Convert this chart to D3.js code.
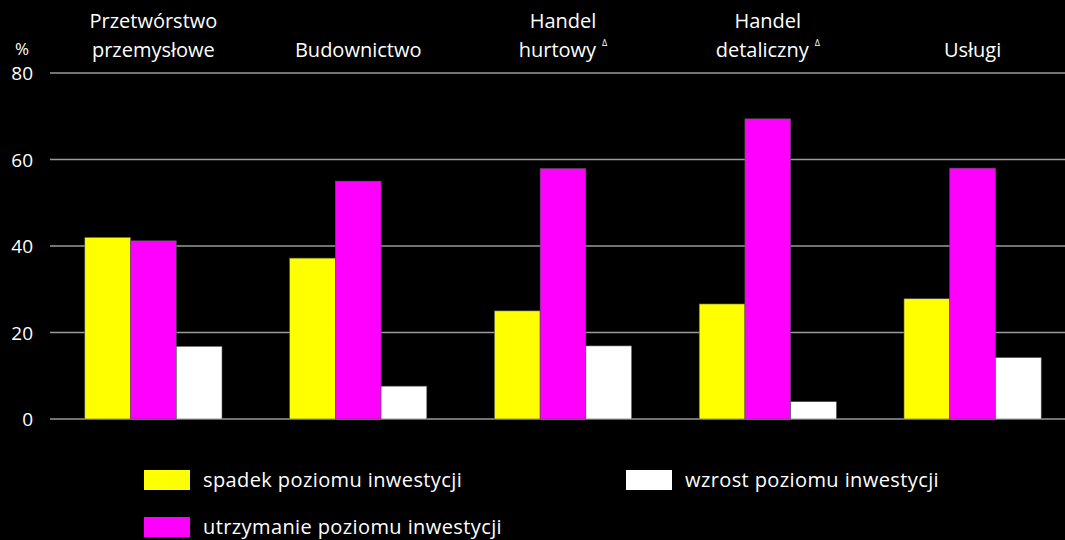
<!DOCTYPE html>
<html>
<head>
<meta charset="utf-8">
<script src="https://cdn.jsdelivr.net/npm/d3@7"></script>
<style>
  body { margin: 0; background: #000; }
  svg { display: block; font-family: "Open Sans", "Noto Sans", sans-serif; }
</style>
</head>
<body>
<svg width="1065" height="540"></svg>
<script>
var svg = d3.select("svg"),
  width = +svg.attr("width"),
  height = +svg.attr("height");

// categories (two lines each, delta mark where the original has one)
var categories = ["Przetwórstwo przemysłowe", "Budownictwo", "Handel hurtowy", "Handel detaliczny", "Usługi"];
var catLines = [["Przetwórstwo", "przemysłowe"], ["Budownictwo"], ["Handel", "hurtowy"], ["Handel", "detaliczny"], ["Usługi"]];
var catDelta = [false, false, true, true, false];

var seriesNames = ["spadek poziomu inwestycji", "utrzymanie poziomu inwestycji", "wzrost poziomu inwestycji"];
var spadek = [42.0, 37.2, 25.0, 26.6, 27.8];
var utrzymanie = [41.2, 55.0, 57.9, 69.4, 58.0];
var wzrost = [16.8, 7.6, 16.9, 4.0, 14.2];
var yTicks = [0, 20, 40, 60, 80];

var colors = ["#ffff00", "#ff00ff", "#ffffff"];
var series = [spadek, utrzymanie, wzrost];

svg.append("rect").attr("width", width).attr("height", height).attr("fill", "#000");

var y = d3.scaleLinear().domain([0, 80]).range([419, 73]);

var x0 = d3.scaleBand()
  .domain(categories)
  .range([51, 1075])
  .paddingInner(0.33)
  .paddingOuter(0.165);

var x1 = d3.scaleBand()
  .domain(d3.range(series.length))
  .range([0, x0.bandwidth()]);

// gridlines
svg.append("g")
  .selectAll("line")
  .data(yTicks)
  .enter().append("line")
  .attr("x1", 50)
  .attr("x2", width)
  .attr("y1", function(d) { return y(d); })
  .attr("y2", function(d) { return y(d); })
  .attr("stroke", "#9a9a9a")
  .attr("stroke-width", 1.5);

// y tick labels
svg.append("g")
  .selectAll("text")
  .data(yTicks)
  .enter().append("text")
  .attr("x", 33)
  .attr("y", function(d) { return y(d) + 7; })
  .attr("text-anchor", "end")
  .attr("fill", "#fff")
  .attr("font-size", 19)
  .text(function(d) { return d; });

svg.append("text")
  .attr("x", 22)
  .attr("y", 55)
  .attr("text-anchor", "middle")
  .attr("fill", "#fff")
  .attr("font-size", 17)
  .text("%");

// bars
var groups = svg.append("g")
  .selectAll("g")
  .data(categories)
  .enter().append("g")
  .attr("transform", function(d) { return "translate(" + x0(d) + ",0)"; });

groups.selectAll("rect")
  .data(function(d, i) { return series.map(function(s, k) { return { k: k, v: s[i] }; }); })
  .enter().append("rect")
  .attr("x", function(d) { return x1(d.k); })
  .attr("width", x1.bandwidth())
  .attr("y", function(d) { return y(d.v); })
  .attr("height", function(d) { return y(0) - y(d.v); })
  .attr("fill", function(d) { return colors[d.k]; })
  .attr("stroke", "#555")
  .attr("stroke-width", 0.6);

// category labels on top
var labels = svg.append("g")
  .selectAll("text")
  .data(categories)
  .enter().append("text")
  .attr("text-anchor", "middle")
  .attr("fill", "#fff")
  .attr("font-size", 20)
  .attr("transform", function(d) { return "translate(" + (x0(d) + x0.bandwidth() / 2) + ",0)"; });

labels.each(function(d, i) {
  var t = d3.select(this);
  var lines = catLines[i];
  lines.forEach(function(line, j) {
    var ty = lines.length === 1 ? 57 : 28 + j * 29;
    t.append("tspan").attr("x", 0).attr("y", ty).text(line);
    if (catDelta[i] && j === lines.length - 1) {
      t.append("tspan").attr("dx", 6).attr("dy", -11).attr("font-size", 9).text("Δ");
    }
  });
});

// legend
var legendPos = [[144, 470], [144, 517], [626, 470]];
var legend = svg.append("g")
  .selectAll("g")
  .data(seriesNames)
  .enter().append("g")
  .attr("transform", function(d, i) { return "translate(" + legendPos[i][0] + "," + legendPos[i][1] + ")"; });

legend.append("rect")
  .attr("width", 46)
  .attr("height", 20)
  .attr("fill", function(d, i) { return colors[i]; });

legend.append("text")
  .attr("x", 59)
  .attr("y", 17)
  .attr("fill", "#fff")
  .attr("font-size", 20)
  .attr("letter-spacing", 0.4)
  .text(function(d) { return d; });
</script>
</body>
</html>
